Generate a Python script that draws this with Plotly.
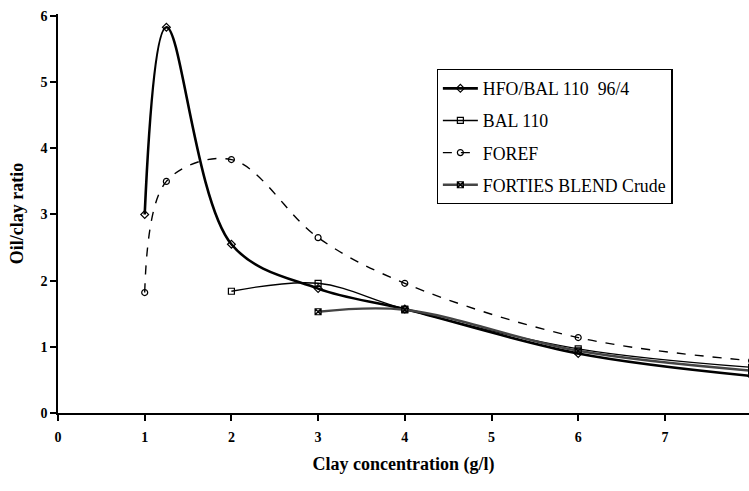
import plotly.graph_objects as go

# Data
hfo_x = [1.0, 1.25, 2.0, 3.0, 4.0, 6.0, 8.0]
hfo_y = [3.0, 5.83, 2.55, 1.88, 1.57, 0.90, 0.56]

bal_x = [2.0, 3.0, 4.0, 6.0, 8.0]
bal_y = [1.84, 1.96, 1.57, 0.97, 0.69]

foref_x = [1.0, 1.25, 2.0, 3.0, 4.0, 6.0, 8.0]
foref_y = [1.82, 3.50, 3.83, 2.65, 1.96, 1.14, 0.79]

forties_x = [3.0, 4.0, 6.0, 8.0]
forties_y = [1.53, 1.56, 0.94, 0.64]

x_ticks = [0, 1, 2, 3, 4, 5, 6, 7]
y_ticks = [0, 1, 2, 3, 4, 5, 6]

FONT = "Liberation Serif"

fig = go.Figure()

fig.add_trace(go.Scatter(
    x=hfo_x, y=hfo_y, name="HFO/BAL 110  96/4", legendgroup="a",
    mode="lines+markers", line=dict(color="black", width=2.6, shape="spline", smoothing=1.0),
    marker=dict(symbol="diamond-open", size=6, color="black", line=dict(width=1.2)),
))
fig.add_trace(go.Scatter(
    x=bal_x, y=bal_y, name="BAL 110", legendgroup="b",
    mode="lines+markers", line=dict(color="black", width=1.4, shape="spline", smoothing=1.0),
    marker=dict(symbol="square-open", size=6, color="black", line=dict(width=1.2)),
))
fig.add_trace(go.Scatter(
    x=foref_x, y=foref_y, name="FOREF", legendgroup="c",
    mode="lines+markers", line=dict(color="black", width=1.4, dash="dash", shape="spline", smoothing=1.0),
    marker=dict(symbol="circle-open", size=6, color="black", line=dict(width=1.2)),
))
fig.add_trace(go.Scatter(
    x=forties_x, y=forties_y, name="FORTIES BLEND Crude", legendgroup="d",
    mode="lines+markers", line=dict(color="#444444", width=2.4, shape="spline", smoothing=1.0),
    marker=dict(symbol="square-x-open", size=6, color="black", line=dict(width=1.2)),
))

fig.update_layout(
    width=749, height=491,
    margin=dict(l=58, r=0, t=14, b=78),
    paper_bgcolor="white", plot_bgcolor="white",
    font=dict(family=FONT, color="black"),
    showlegend=True,
    legend=dict(
        x=0.548, y=0.862, xanchor="left", yanchor="top",
        bordercolor="black", borderwidth=1.2, bgcolor="white",
        font=dict(family=FONT, size=17.8, color="black"),
        itemwidth=35, tracegroupgap=6, traceorder="grouped",
    ),
    xaxis=dict(
        range=[0, 7.97], tickvals=x_ticks, ticktext=[str(v) for v in x_ticks],
        showline=True, linecolor="black", linewidth=1.5,
        ticks="outside", ticklen=6, tickwidth=1.5, tickcolor="black",
        ticklabelstandoff=4,
        showgrid=False, zeroline=False,
        tickfont=dict(family=FONT, size=14, color="black", weight="bold"),
        title=dict(text="<b>Clay concentration (g/l)</b>", font=dict(family=FONT, size=18, color="black"), standoff=14),
    ),
    yaxis=dict(
        range=[0, 6.03], tickvals=y_ticks, ticktext=[str(v) for v in y_ticks],
        showline=True, linecolor="black", linewidth=1.5,
        ticks="outside", ticklen=6, tickwidth=1.5, tickcolor="black",
        showgrid=False, zeroline=False,
        tickfont=dict(family=FONT, size=14, color="black", weight="bold"),
        title=dict(text="<b>Oil/clay ratio</b>", font=dict(family=FONT, size=18, color="black"), standoff=12),
    ),
)

fig.write_html("out.html")
